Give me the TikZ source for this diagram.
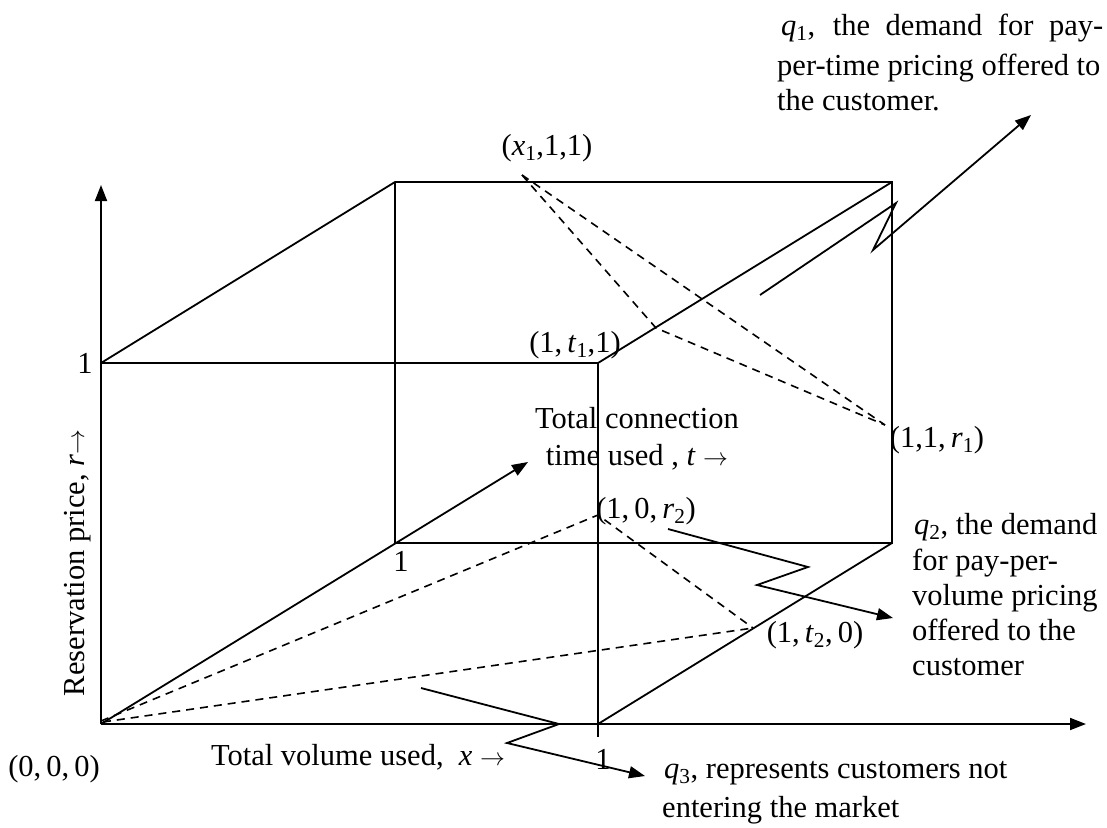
\documentclass[tikz,border=0pt]{standalone}
\usepackage{fontspec}
\setmainfont{Liberation Serif}
\usetikzlibrary{arrows.meta}
\newcommand\vsub[2]{\textit{#1}\textsubscript{#2}}
\begin{document}
\begin{tikzpicture}[x=1pt,y=-1pt,
  every node/.style={font=\fontsize{30.5}{35}\selectfont, inner sep=0pt},
  solid line/.style={line width=1.8pt, line join=miter},
  dashline/.style={line width=1.6pt, dash pattern=on 8pt off 6pt},
  arr/.style={solid line, -{Triangle[length=16pt,width=12pt]}},
  lbl/.style={anchor=base},
  lblw/.style={anchor=base west}]
\useasboundingbox (0,0) rectangle (1107,827);
% cube corners
\coordinate (O) at (101,724);
\coordinate (F1) at (101,363);
\coordinate (F2) at (598,363);
\coordinate (F3) at (598,724);
\coordinate (F3low) at (598,737);
\coordinate (B0) at (395,543);
\coordinate (B1) at (395,182);
\coordinate (B2) at (892,182);
\coordinate (B3) at (892,543);
\coordinate (Ytip) at (101,185);
\coordinate (Xtip) at (1086,724);
\coordinate (Ttip) at (528,462);
% axes
\draw[arr] (O) -- (Ytip);
\draw[arr] (O) -- (Xtip);
\draw[arr] (O) -- (Ttip);
% cube edges
\draw[solid line] (F1) -- (F2) -- (F3low);
\draw[solid line] (F1) -- (B1) -- (B2) -- (B3) -- (B0) -- (B1);
\draw[solid line] (F2) -- (B2);
\draw[solid line] (F3) -- (B3);
% dashed planes
\coordinate (X1) at (522,175);
\coordinate (T1) at (656,328);
\coordinate (R1) at (885,425);
\coordinate (R2) at (598,515);
\coordinate (T2) at (753,628);
\coordinate (OA) at (101,721);
\coordinate (OB) at (103,722);
\draw[dashline] (X1) -- (T1) -- (R1);
\draw[dashline] (X1) -- (R1);
\draw[dashline] (OA) -- (R2) -- (T2);
\draw[dashline] (OB) -- (T2);
% zigzag pointers
\coordinate (Q1a) at (760,295);
\coordinate (Q1b) at (896,203);
\coordinate (Q1c) at (873,250);
\coordinate (Q1d) at (1031,115);
\draw[arr] (Q1a) -- (Q1b) -- (Q1c) -- (Q1d);
\coordinate (Q2a) at (668,529);
\coordinate (Q2b) at (808,567);
\coordinate (Q2c) at (757,585);
\coordinate (Q2d) at (893,618);
\draw[arr] (Q2a) -- (Q2b) -- (Q2c) -- (Q2d);
\coordinate (Q3a) at (421,688);
\coordinate (Q3b) at (559,724);
\coordinate (Q3c) at (507,743);
\coordinate (Q3d) at (645,776);
\draw[arr] (Q3a) -- (Q3b) -- (Q3c) -- (Q3d);
% labels
\node[lbl] (one1) at (85,373) {1};
\node[lbl] (orig) at (54,776) {(0,\,0,\,0)};
\node[lbl] (xlab) at (358,765) {Total volume used,\ \ \textit{x} $\rightarrow$};
\node[lbl] (onex) at (603,769) {1};
\node[lbl] (onet) at (401,571) {1};
\node[lbl] (x1p) at (547,155) {(\vsub{x}{1},1,1)};
\node[lbl] (t1p) at (575,352) {(1,\,\vsub{t}{1},1)};
\node[lbl] (tl1) at (637,428) {Total connection};
\node[lbl] (tl2) at (637,465) {time used , \textit{t} $\rightarrow$};
\node[lbl] (r1p) at (937,447) {(1,1,\,\vsub{r}{1})};
\node[lbl] (r2p) at (646,518) {(1,\,0,\,\vsub{r}{2})};
\node[lbl] (t2p) at (815,642) {(1,\,\vsub{t}{2},\,0)};
\node[rotate=90, anchor=base] (rlab) at (84,563) {Reservation price, \textit{r}$\rightarrow$};
% q1 text
\node[lblw] (q1a) at (781,35) {\makebox[322pt][s]{\vsub{q}{1}, the demand for pay-}};
\node[lblw] (q1b) at (777,75) {per-time pricing offered to};
\node[lblw] (q1c) at (777,110) {the customer.};
% q2 text
\node[lblw] (q2a) at (914,534) {\vsub{q}{2}, the demand};
\node[lblw] (q2b) at (912,570) {for pay-per-};
\node[lblw] (q2c) at (912,605) {volume pricing};
\node[lblw] (q2d) at (912,640) {offered to the};
\node[lblw] (q2e) at (912,675) {customer};
% q3 text
\node[lblw] (q3a) at (664,778) {\vsub{q}{3}, represents customers not};
\node[lblw] (q3b) at (662,817) {entering the market};
\end{tikzpicture}
\end{document}
